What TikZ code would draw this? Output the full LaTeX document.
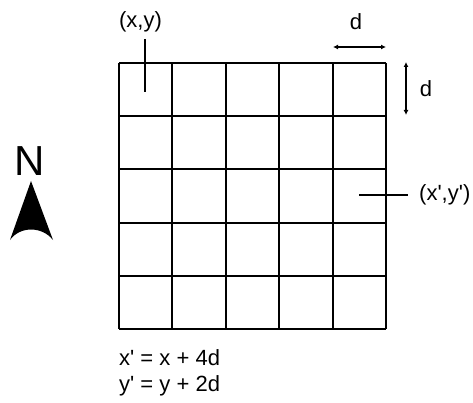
\documentclass[tikz,border=0pt]{standalone}
\usepackage{fontspec}
\setmainfont{Liberation Sans}
\usetikzlibrary{arrows.meta}
\newcommand{\pr}{\textquotesingle}
\begin{document}
\begin{tikzpicture}[x=1pt,y=-1pt,
  lbl/.style={font=\fontsize{22}{26}\selectfont, inner sep=0pt},
  gridline/.style={line width=2pt},
  lead/.style={line width=1.6pt},
  dimarrow/.style={line width=1.6pt, {Latex[length=5pt,width=5pt]}-{Latex[length=5pt,width=5pt]}}]
\useasboundingbox (0,0) rectangle (473,403);
% grid
\foreach \i in {0,...,5} {
  \draw[gridline] ({119+\i*53.4},63) -- ({119+\i*53.4},329);
  \draw[gridline] (119,{63+\i*53.2}) -- (386,{63+\i*53.2});
}
% (x,y)
\node[lbl] (xy) at (140.5,22) {(x,y)};
\coordinate (p1) at (145,92);
\coordinate (p1top) at (145,39);
\draw[lead] (p1top) -- (p1);
% d arrows
\coordinate (dh1) at (333,47);
\coordinate (dh2) at (386,47);
\draw[dimarrow] (dh1) -- (dh2);
\node[lbl] (dtop) at (356,22) {d};
\coordinate (dv1) at (406,62);
\coordinate (dv2) at (406,115);
\draw[dimarrow] (dv1) -- (dv2);
\node[lbl] (dside) at (426,89) {d};
% (x',y')
\node[lbl, anchor=west] (xyp) at (419,195) {(x\pr,y\pr)};
\coordinate (p2) at (359,195);
\draw[lead] (p2) -- (408,195);
% North
\node[font=\fontsize{42}{46}\selectfont, inner sep=0pt] (N) at (30,161) {N};
\fill (31,181) -- (53,240) .. controls (42,226) and (20,226) .. (10,240) -- cycle;
% equations
\node[lbl, anchor=west, align=left] (eq) at (119,373) {x\pr{} = x + 4d\\[0pt]y\pr{} = y + 2d};
\end{tikzpicture}
\end{document}
